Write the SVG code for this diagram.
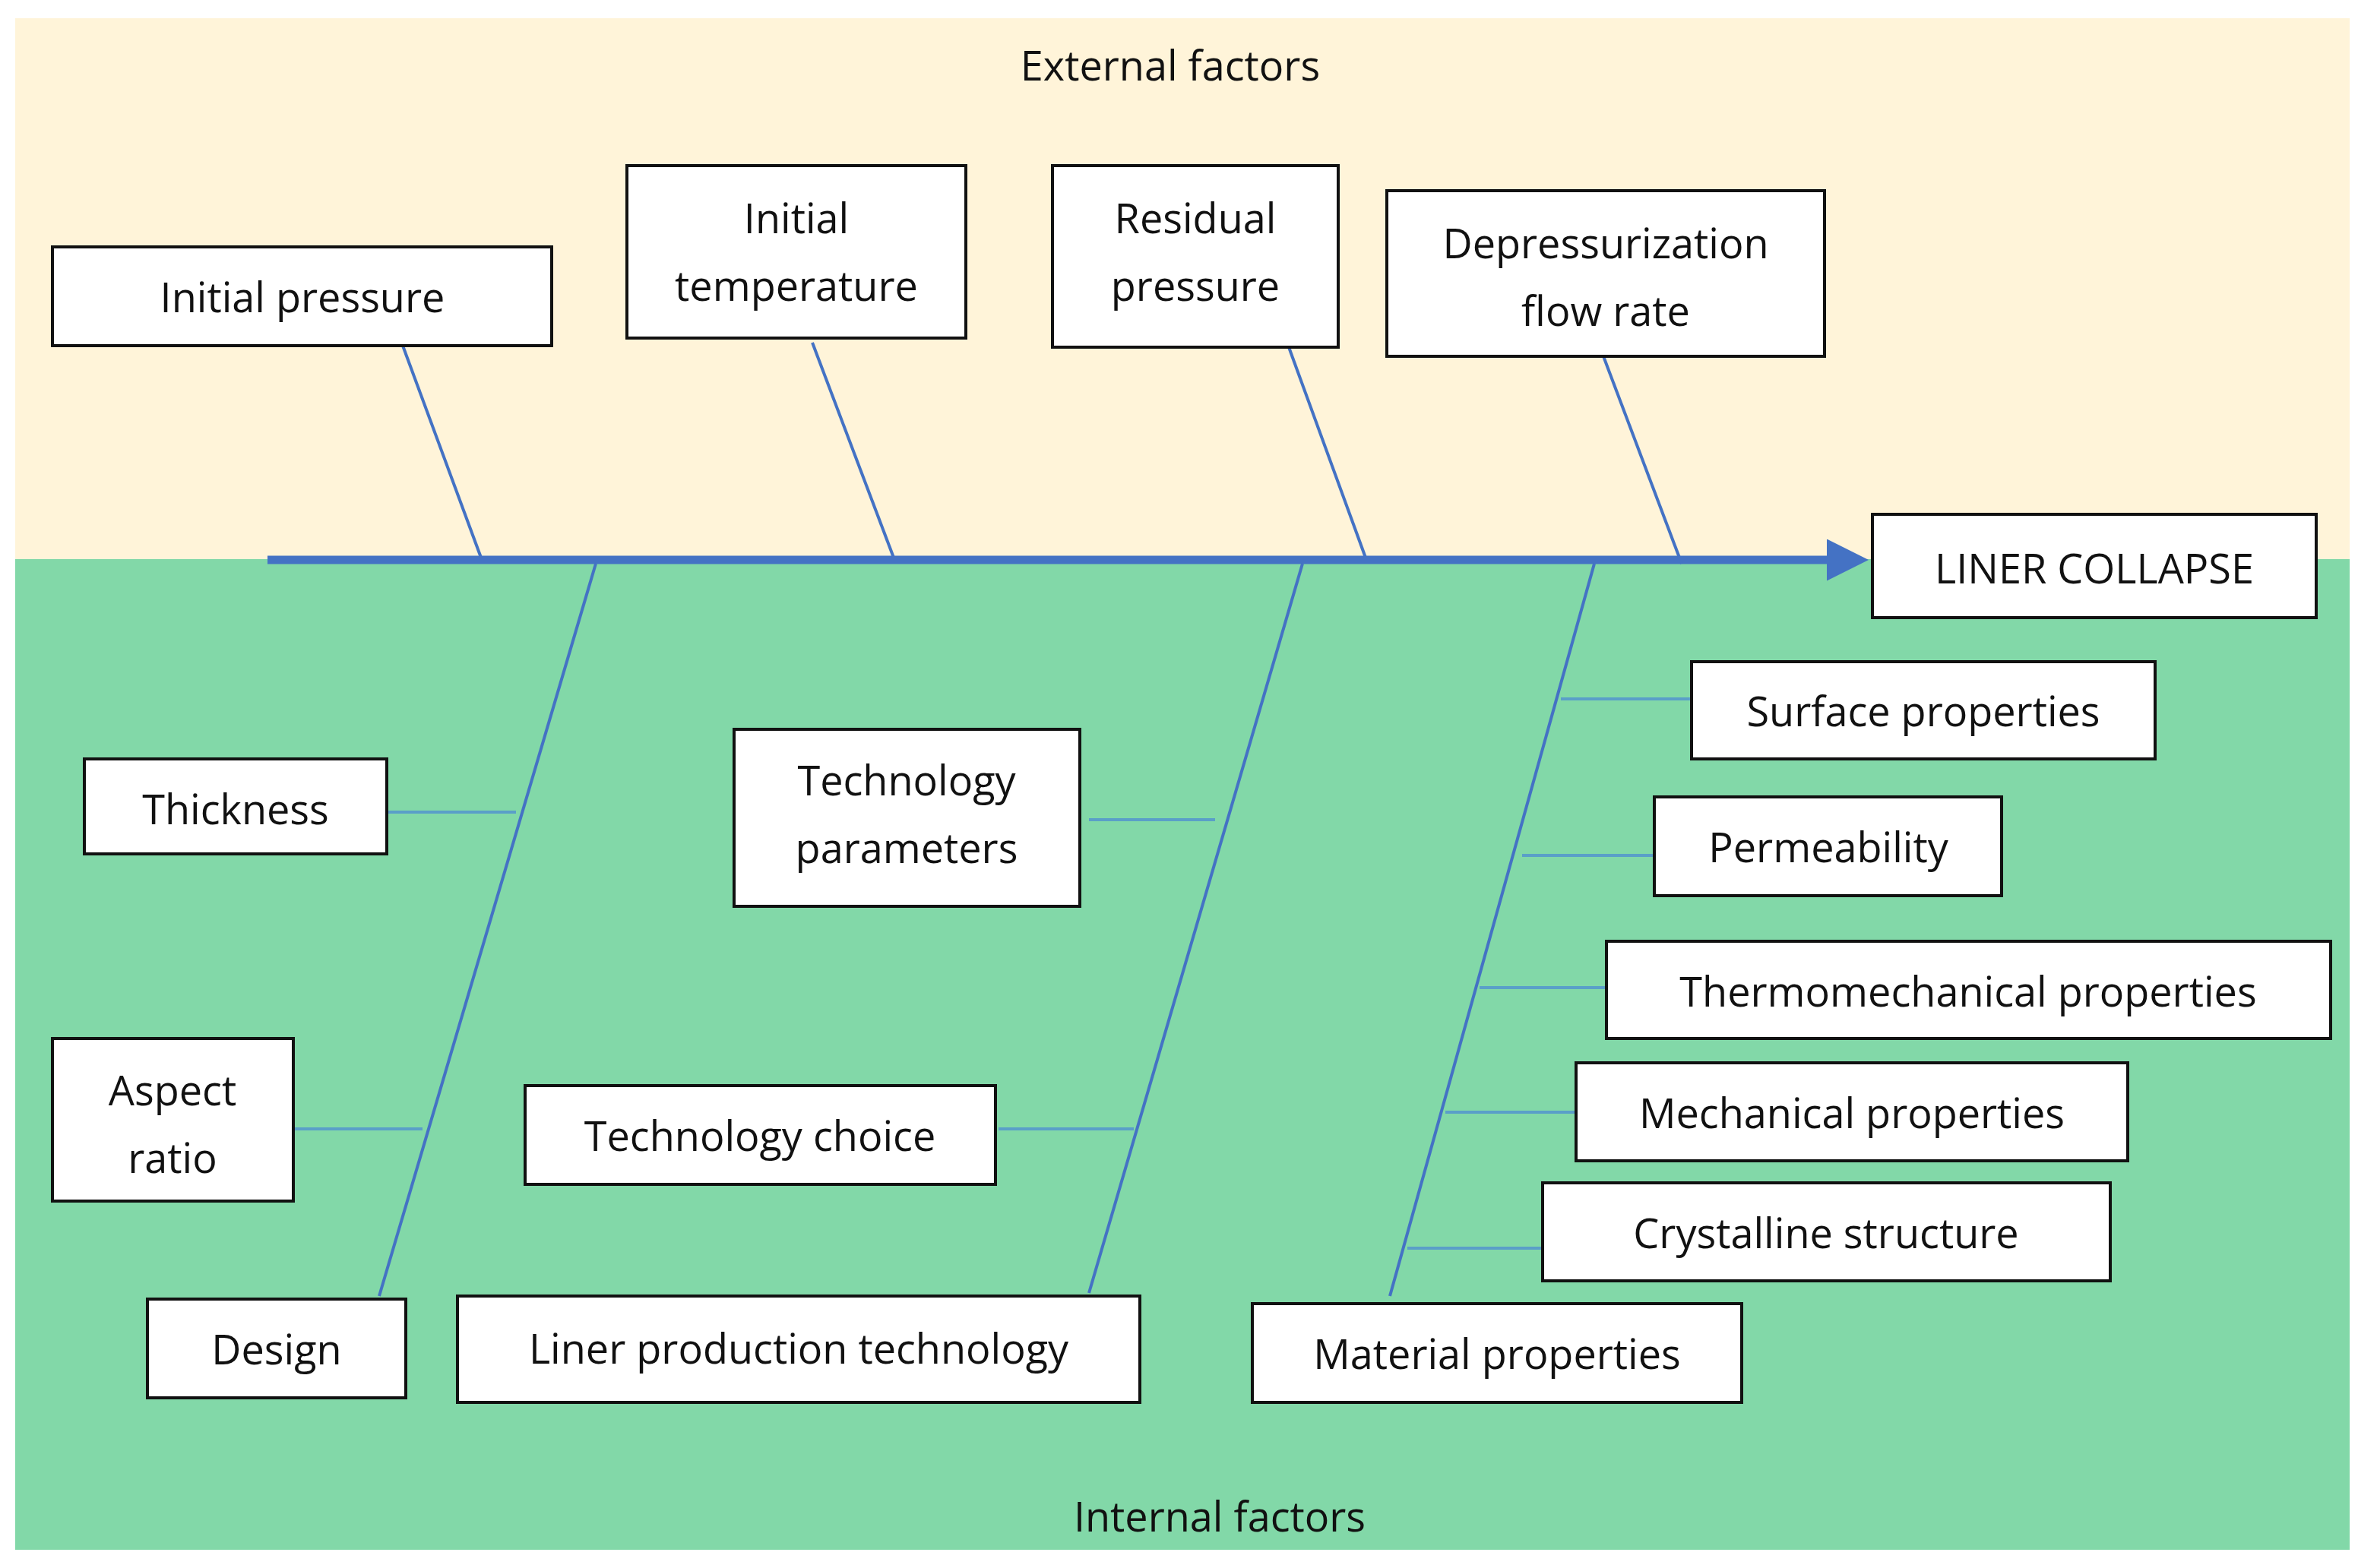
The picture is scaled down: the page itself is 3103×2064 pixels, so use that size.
<svg xmlns="http://www.w3.org/2000/svg" width="3103" height="2064" viewBox="0 0 3103 2064">
<style>
.b{fill:#fff;stroke:#111;stroke-width:4}
text{font-family:"Open Sans","Liberation Sans",sans-serif;font-size:54px;fill:#111;text-anchor:middle;dominant-baseline:central}
.l{stroke:#4472C4;stroke-width:4;fill:none}
.r{stroke:#5a9fc8;stroke-width:4}
</style>
<defs><marker id="ah" markerWidth="6" markerHeight="6" refX="0" refY="3" orient="auto" markerUnits="userSpaceOnUse" viewBox="0 0 6 6"><path d="M0,0L6,3L0,6z" fill="#4472C4"/></marker>
<marker id="a" viewBox="0 0 10 10" refX="2" refY="5" markerWidth="5" markerHeight="5" orient="auto"><path d="M0,0L10,5L0,10z" fill="#4472C4"/></marker></defs>
<rect width="3103" height="2064" fill="#fff"/>
<rect x="20" y="24" width="3072" height="712" fill="#FFF4D9"/>
<rect x="20" y="736" width="3072" height="1304" fill="#82D8A8"/>
<text x="1540" y="85">External factors</text>
<text x="1605" y="1995">Internal factors</text>
<g id="connectors">
<line x1="352" y1="737" x2="2415" y2="737" stroke="#4472C4" stroke-width="11" marker-end="url(#a)"/>
<line class="l" x1="530" y1="455" x2="633" y2="734"/>
<line class="l" x1="1069" y1="451" x2="1176" y2="734"/>
<line class="l" x1="1696" y1="457" x2="1797" y2="734"/>
<line class="l" x1="2110" y1="469" x2="2213" y2="742"/>
<line class="l" x1="784" y1="742" x2="499" y2="1706"/>
<line class="l" x1="1714" y1="742" x2="1433" y2="1702"/>
<line class="l" x1="2098" y1="742" x2="1829" y2="1706"/>
<line class="r" x1="511" y1="1069" x2="679" y2="1069"/>
<line class="r" x1="388" y1="1486" x2="556" y2="1486"/>
<line class="r" x1="1433" y1="1079" x2="1599" y2="1079"/>
<line class="r" x1="1314" y1="1486" x2="1492" y2="1486"/>
<line class="r" x1="2054" y1="920" x2="2226" y2="920"/>
<line class="r" x1="2003" y1="1126" x2="2177" y2="1126"/>
<line class="r" x1="1947" y1="1300" x2="2114" y2="1300"/>
<line class="r" x1="1902" y1="1464" x2="2074" y2="1464"/>
<line class="r" x1="1852" y1="1643" x2="2030" y2="1643"/>
</g>
<g id="n1"><rect class="b" x="69" y="325" width="657" height="130"/><text x="398" y="390">Initial pressure</text></g>
<g id="n2"><rect class="b" x="825" y="218" width="446" height="227"/><text x="1048" y="286">Initial</text><text x="1048" y="375">temperature</text></g>
<g id="n3"><rect class="b" x="1385" y="218" width="376" height="239"/><text x="1573" y="286">Residual</text><text x="1573" y="375">pressure</text></g>
<g id="n4"><rect class="b" x="1825" y="251" width="576" height="218"/><text x="2113" y="319">Depressurization</text><text x="2113" y="408">flow rate</text></g>
<g id="n5"><rect class="b" x="2464" y="677" width="584" height="136"/><text x="2756" y="747">LINER COLLAPSE</text></g>
<g id="n6"><rect class="b" x="2226" y="871" width="610" height="128"/><text x="2531" y="935">Surface properties</text></g>
<g id="n7"><rect class="b" x="2177" y="1049" width="457" height="130"/><text x="2406" y="1114">Permeability</text></g>
<g id="n8"><rect class="b" x="2114" y="1239" width="953" height="128"/><text x="2590" y="1304">Thermomechanical properties</text></g>
<g id="n9"><rect class="b" x="2074" y="1399" width="726" height="129"/><text x="2437" y="1464">Mechanical properties</text></g>
<g id="n10"><rect class="b" x="2030" y="1557" width="747" height="129"/><text x="2403" y="1622">Crystalline structure</text></g>
<g id="n11"><rect class="b" x="1648" y="1716" width="644" height="130"/><text x="1970" y="1781">Material properties</text></g>
<g id="n12"><rect class="b" x="111" y="999" width="398" height="125"/><text x="310" y="1064">Thickness</text></g>
<g id="n13"><rect class="b" x="69" y="1367" width="317" height="214"/><text x="227" y="1434">Aspect</text><text x="227" y="1523">ratio</text></g>
<g id="n14"><rect class="b" x="194" y="1710" width="340" height="130"/><text x="364" y="1775">Design</text></g>
<g id="n15"><rect class="b" x="966" y="960" width="455" height="233"/><text x="1193" y="1026">Technology</text><text x="1193" y="1115">parameters</text></g>
<g id="n16"><rect class="b" x="691" y="1429" width="619" height="130"/><text x="1000" y="1494">Technology choice</text></g>
<g id="n17"><rect class="b" x="602" y="1706" width="898" height="140"/><text x="1051" y="1774">Liner production technology</text></g>
</svg>
